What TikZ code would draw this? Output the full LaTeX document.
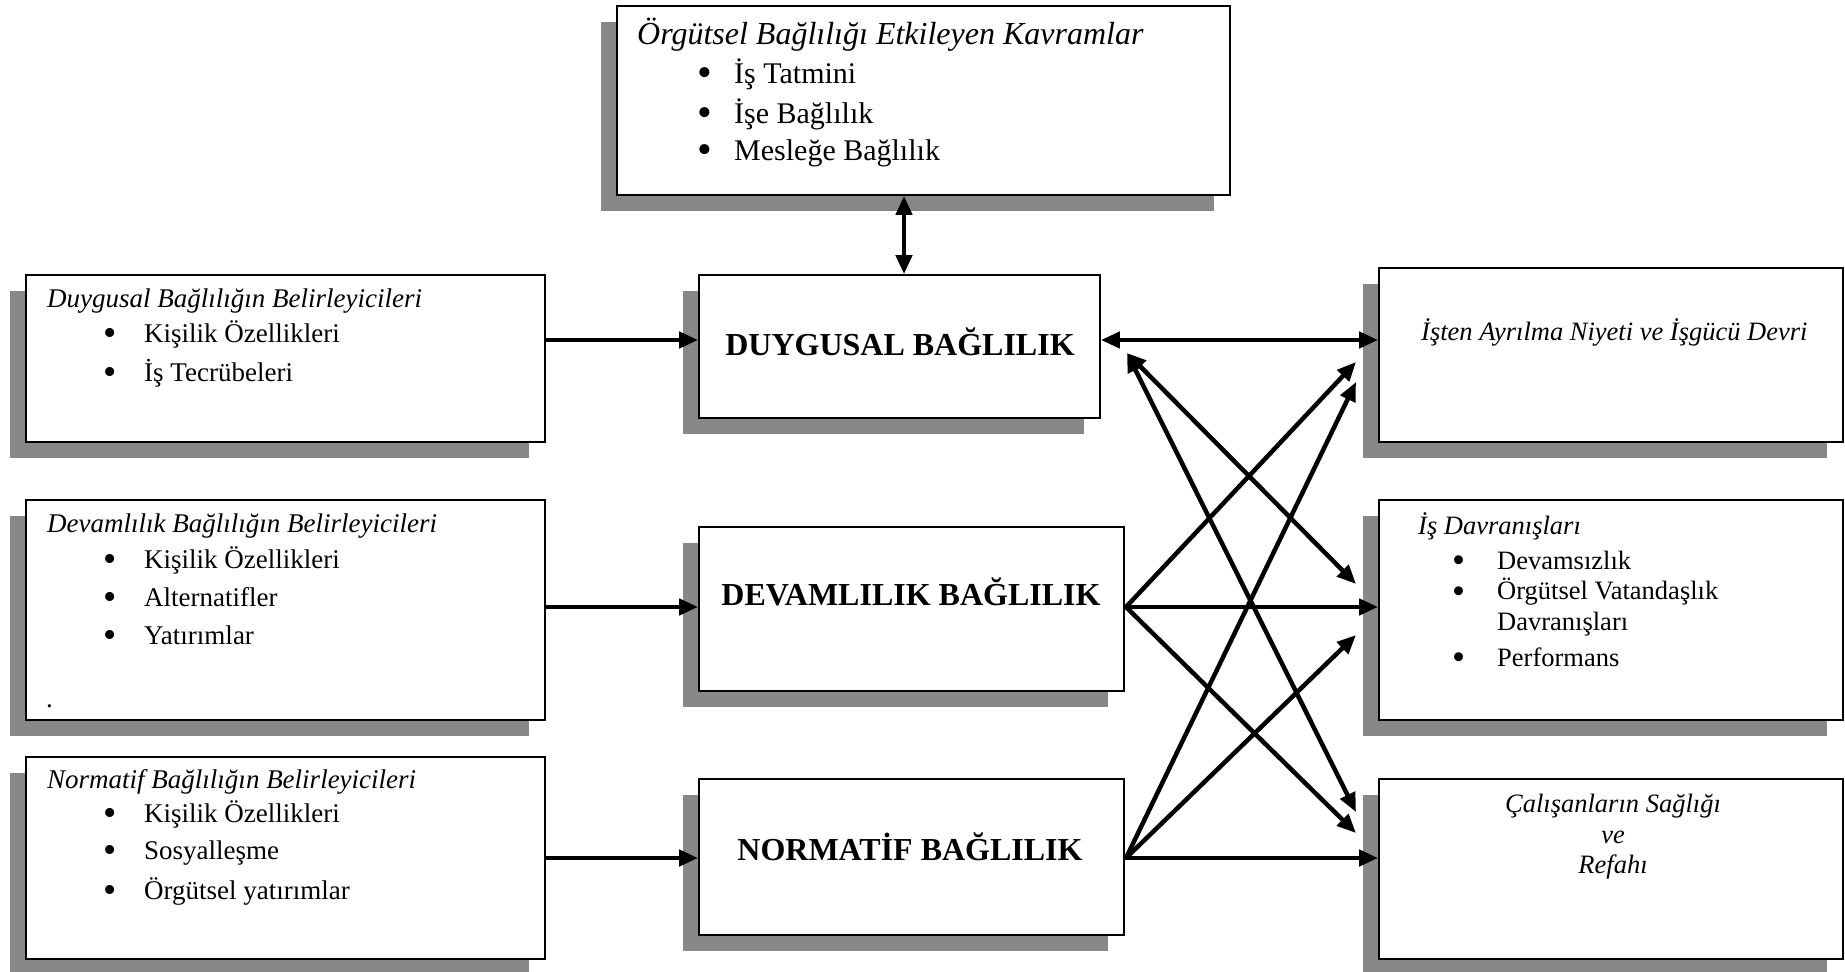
\documentclass[tikz,border=0pt]{standalone}
\usepackage{fontspec}
\setmainfont{Liberation Serif}
\usetikzlibrary{arrows.meta,shadows}
\definecolor{shadowgray}{RGB}{136,136,136}
\newcommand{\bulletmark}{\smash{\raisebox{-0.12em}{\scalebox{1.4}{•}}}}
\newcommand{\bitem}[2]{\makebox[#1][l]{\bulletmark}#2}
\tikzset{
  box/.style={draw=black, line width=1.8pt, fill=white, inner sep=0pt,
    drop shadow={shadow xshift=-16pt, shadow yshift=-16pt, fill=shadowgray, opacity=1}},
  txt/.style={inner sep=0pt, anchor=west, font=\fontsize{27}{32}\selectfont},
  toptxt/.style={inner sep=0pt, anchor=west, font=\fontsize{30}{36}\selectfont},
  rtxt/.style={inner sep=0pt, anchor=west, font=\fontsize{26.5}{32}\selectfont},
  big/.style={inner sep=0pt, font=\fontsize{32}{38}\bfseries\selectfont},
  arr/.style={line width=4.5pt, -{Triangle[length=19pt,width=16pt]}},
  darr/.style={line width=4.5pt, {Triangle[length=19pt,width=16pt]}-{Triangle[length=19pt,width=16pt]}},
}
\begin{document}
\begin{tikzpicture}[x=1pt,y=-1pt]
\useasboundingbox (0,0) rectangle (1845,972);
% boxes
\node[box, minimum width=613pt, minimum height=189pt] (T) at (923.5,100.5) {};
\node[box, minimum width=519pt, minimum height=167pt] (D1) at (285.5,358.5) {};
\node[box, minimum width=519pt, minimum height=220pt] (D2) at (285.5,610) {};
\node[box, minimum width=519pt, minimum height=202pt] (D3) at (285.5,858) {};
\node[box, minimum width=401pt, minimum height=143pt] (M1) at (899.5,346.5) {};
\node[box, minimum width=425pt, minimum height=164pt] (M2) at (911.5,609) {};
\node[box, minimum width=425pt, minimum height=156pt] (M3) at (911.5,857) {};
\node[box, minimum width=464pt, minimum height=174pt] (R1) at (1611,355) {};
\node[box, minimum width=464pt, minimum height=220pt] (R2) at (1611,610) {};
\node[box, minimum width=464pt, minimum height=180pt] (R3) at (1611,869) {};
% top box text
\node[toptxt, font=\fontsize{32}{38}\selectfont] (tt) at (637,35) {\itshape Örgütsel Bağlılığı Etkileyen Kavramlar};
\node[toptxt] (t1) at (697,74) {\bitem{37pt}{İş Tatmini}};
\node[toptxt] (t2) at (697,114) {\bitem{37pt}{İşe Bağlılık}};
\node[toptxt] (t3) at (697,153) {\bitem{37pt}{Mesleğe Bağlılık}};
% left boxes text
\node[txt] (d1t) at (47,301) {\itshape Duygusal Bağlılığın Belirleyicileri};
\node[txt] (d1a) at (103,334) {\bitem{41pt}{Kişilik Özellikleri}};
\node[txt] (d1b) at (103,373) {\bitem{41pt}{İş Tecrübeleri}};
\node[txt] (d2t) at (47,526) {\itshape Devamlılık Bağlılığın Belirleyicileri};
\node[txt] (d2a) at (103,560) {\bitem{41pt}{Kişilik Özellikleri}};
\node[txt] (d2b) at (103,597) {\bitem{41pt}{Alternatifler}};
\node[txt] (d2c) at (103,635) {\bitem{41pt}{Yatırımlar}};
\node[txt] (d2d) at (46,706) {.};
\node[txt] (d3t) at (47,782) {\itshape Normatif Bağlılığın Belirleyicileri};
\node[txt] (d3a) at (103,814) {\bitem{41pt}{Kişilik Özellikleri}};
\node[txt] (d3b) at (103,853) {\bitem{41pt}{Sosyalleşme}};
\node[txt] (d3c) at (103,891) {\bitem{41pt}{Örgütsel yatırımlar}};
% middle texts
\node[big] (m1t) at (900,342) {DUYGUSAL BAĞLILIK};
\node[big] (m2t) at (911,592) {DEVAMLILIK BAĞLILIK};
\node[big] (m3t) at (910,847) {NORMATİF BAĞLILIK};
% right texts
\node[rtxt] (r1t) at (1421,332) {\itshape İşten Ayrılma Niyeti ve İşgücü Devri};
\node[rtxt] (r2t) at (1418,526) {\itshape İş Davranışları};
\node[rtxt] (r2a) at (1452,560) {\bitem{45pt}{Devamsızlık}};
\node[rtxt] (r2b) at (1452,592) {\bitem{45pt}{Örgütsel Vatandaşlık}};
\node[rtxt] (r2c) at (1497,624) {Davranışları};
\node[rtxt] (r2d) at (1452,657) {\bitem{45pt}{Performans}};
\node[rtxt, anchor=center] (r3a) at (1613,806) {\itshape Çalışanların Sağlığı};
\node[rtxt, anchor=center] (r3b) at (1613,837) {\itshape ve};
\node[rtxt, anchor=center] (r3c) at (1613,867) {\itshape Refahı};
% coordinates
\coordinate (y1) at (0,340);
\coordinate (y2) at (0,607);
\coordinate (y3) at (0,858);
\coordinate (m1d) at (1127,353);
\coordinate (m2o) at (1126,607);
\coordinate (m3o) at (1126,858);
\coordinate (r1a) at (1356,362);
\coordinate (r1b) at (1356,382);
\coordinate (r2a) at (1356,584);
\coordinate (r2b) at (1356,635);
\coordinate (r3a) at (1356,812);
\coordinate (r3b) at (1356,833);
% arrows
\draw[darr] (T.south -| 904,0) -- (M1.north -| 904,0);
\draw[arr] (D1.east |- y1) -- (M1.west |- y1);
\draw[arr] (D2.east |- y2) -- (M2.west |- y2);
\draw[arr] (D3.east |- y3) -- (M3.west |- y3);
\draw[darr] (M1.east |- y1) -- (R1.west |- y1);
\draw[darr] (m1d) -- (r2a);
\draw[darr] (m1d) -- (r3a);
\draw[arr] (M2.east |- y2) -- (R2.west |- y2);
\draw[arr] (m2o) -- (r1a);
\draw[arr] (m2o) -- (r3b);
\draw[arr] (M3.east |- y3) -- (R3.west |- y3);
\draw[arr] (m3o) -- (r1b);
\draw[arr] (m3o) -- (r2b);
\end{tikzpicture}
\end{document}
